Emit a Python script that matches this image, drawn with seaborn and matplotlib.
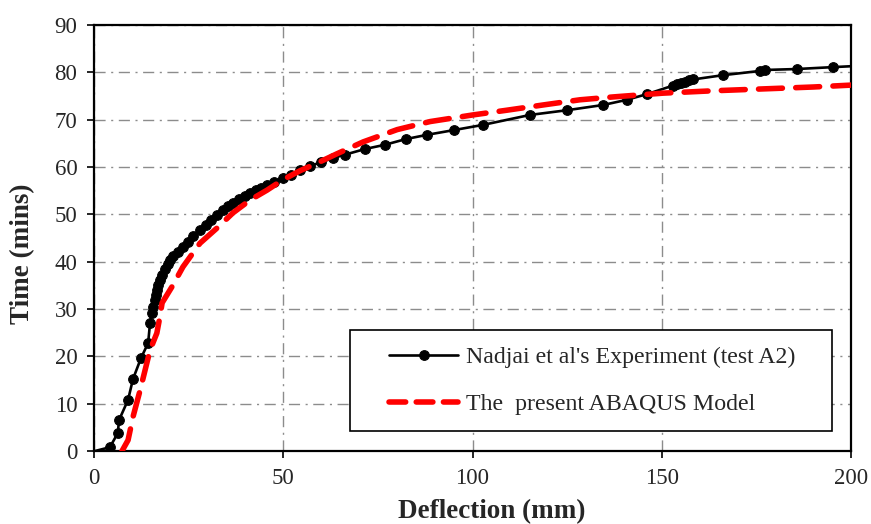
import matplotlib
matplotlib.use("Agg")
import matplotlib.pyplot as plt
from matplotlib.patches import Rectangle
import seaborn as sns
import pandas as pd

exp_x = [0.3, 4.2, 6.3, 6.6, 9.0, 10.3, 12.4, 14.3, 14.8, 15.3, 15.6, 16.1, 16.4, 16.6, 17.0,
         17.4, 18.0, 18.8, 19.5, 20.1, 21.0, 22.2, 23.5, 24.8, 26.2, 28.0, 29.5, 31.0, 32.5,
         34.0, 35.5, 36.7, 38.2, 39.8, 41.2, 42.7, 44.2, 45.7, 47.5, 49.9, 52.0, 54.4, 57.0,
         60.0, 63.1, 66.3, 71.6, 76.9, 82.4, 88.0, 95.1, 102.8, 115.2, 125.0, 134.5, 140.8,
         146.1, 153.0, 154.0, 155.0, 156.1, 157.2, 158.3, 166.2, 176.0, 177.3, 185.7, 195.2, 200.3]
exp_t = [0.0, 0.8, 3.8, 6.5, 10.8, 15.2, 19.6, 22.8, 27.0, 29.2, 30.5, 31.9, 33.0, 34.0, 35.0,
         36.1, 37.2, 38.4, 39.5, 40.4, 41.2, 42.0, 43.1, 44.2, 45.5, 46.7, 47.8, 48.9, 49.9,
         50.9, 51.7, 52.4, 53.2, 53.9, 54.5, 55.1, 55.6, 56.2, 56.9, 57.7, 58.4, 59.3, 60.2,
         61.0, 61.9, 62.6, 63.8, 64.7, 65.9, 66.8, 67.8, 68.9, 71.0, 72.0, 73.1, 74.2,
         75.4, 77.2, 77.5, 77.8, 78.0, 78.3, 78.5, 79.4, 80.3, 80.5, 80.7, 81.1, 81.3]

model_x = [7.4, 9.0, 10.3, 12.2, 13.5, 14.8, 16.6, 17.4, 18.0, 20.6, 23.5, 28.0, 32.5, 36.7,
           41.2, 45.7, 49.9, 54.4, 58.9, 64.2, 71.1, 80.1, 88.8, 100.1, 109.1, 118.6, 128.4,
           137.1, 150.3, 163.5, 176.8, 190.0, 200.0]
model_t = [0.0, 2.3, 7.2, 12.9, 17.1, 21.3, 24.9, 28.3, 31.3, 34.7, 38.9, 43.9, 47.1, 50.3,
           53.0, 55.1, 57.3, 59.2, 60.8, 62.8, 65.3, 67.9, 69.6, 71.0, 72.0, 73.1, 74.2,
           74.8, 75.6, 76.1, 76.5, 76.9, 77.3]

x_ticks = [0, 50, 100, 150, 200]
y_ticks = [0, 10, 20, 30, 40, 50, 60, 70, 80, 90]

exp_label = "Nadjai et al's Experiment (test A2)"
model_label = "The  present ABAQUS Model"

sns.set_style("white")
plt.rcParams['font.family'] = ['Liberation Serif', 'DejaVu Serif']

W, H = 871, 524
fig, ax = plt.subplots(figsize=(W / 100, H / 100), dpi=100)
L, R, T, B = 94, 851, 25, 451
fig.subplots_adjust(left=L / W, right=R / W, bottom=1 - B / H, top=1 - T / H)


def ax_frac(px, py):
    return (px - L) / (R - L), (B - py) / (B - T)


df_exp = pd.DataFrame({"x": exp_x, "t": exp_t})
df_mod = pd.DataFrame({"x": model_x, "t": model_t})

sns.lineplot(data=df_exp, x="x", y="t", ax=ax, sort=False, estimator=None,
             color="black", linewidth=1.9, marker="o", markersize=7,
             markeredgecolor="black", label=exp_label, zorder=3)
sns.lineplot(data=df_mod, x="x", y="t", ax=ax, sort=False, estimator=None,
             color="#ff0000", linewidth=4.0, label=model_label, zorder=4)

exp_line = ax.lines[0]
exp_line.set_markevery(list(range(1, len(exp_x) - 1)))
mod_line = ax.lines[1]
mod_line.set_dashes((4.3, 2.4))
mod_line.set_dash_capstyle("round")

ax.set_xlim(0, 200)
ax.set_ylim(0, 90)
ax.set_xticks(x_ticks)
ax.set_yticks(y_ticks)
ax.tick_params(axis="both", labelsize=16.5, direction="out", length=5, width=1.2,
               color="black", pad=7, bottom=True, left=True)
ax.grid(True, color="#8c8c8c", linewidth=1.0, linestyle=(0, (8, 4, 1.5, 4)))
for s in ax.spines.values():
    s.set_visible(True)
    s.set_color("black")
    s.set_linewidth(1.6)

ax.set_xlabel("Deflection (mm)", fontsize=19.5, fontweight="bold")
ax.set_ylabel("Time (mins)", fontsize=19.5, fontweight="bold")
ax.xaxis.label.set_va("center")
ax.xaxis.label.set_ha("center")
ax.yaxis.label.set_va("center")
ax.yaxis.label.set_ha("center")
ax.xaxis.set_label_coords(*ax_frac(492, 512))
ax.yaxis.set_label_coords(*ax_frac(23, 254))

# legend: frameless content centred in a drawn box
leg = ax.legend(loc="center", bbox_to_anchor=ax_frac(592, 381), fontsize=17.2,
                frameon=False, handlelength=2.9, handletextpad=0.3, labelspacing=1.05,
                borderpad=0, borderaxespad=0)
leg.set_zorder(6)
leg.get_lines()[1].set_dashes((3.0, 1.9))
leg.get_lines()[1].set_dash_capstyle("round")
x0, y0 = ax_frac(350, 431)
x1, y1 = ax_frac(832, 330)
ax.add_patch(Rectangle((x0, y0), x1 - x0, y1 - y0, transform=ax.transAxes,
                       facecolor="white", edgecolor="black", linewidth=1.2, zorder=5))

fig.savefig("out.png", dpi=100)
